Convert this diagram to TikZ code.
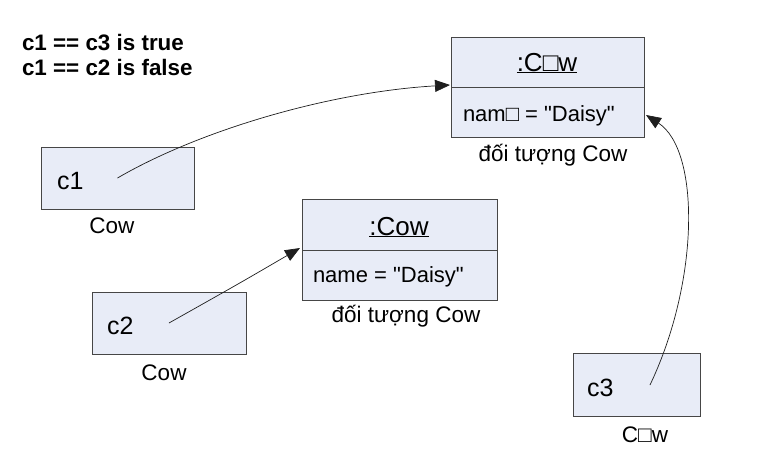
\documentclass[tikz,border=0pt]{standalone}
\usepackage{fontspec}
\setmainfont{Liberation Sans}[Ligatures=TeXOff]
\usetikzlibrary{arrows.meta}
\definecolor{boxfill}{RGB}{232,236,247}
\definecolor{boxline}{RGB}{70,70,70}
\definecolor{lnk}{RGB}{30,30,30}
\tikzset{
  box/.style={draw=boxline, fill=boxfill, line width=0.8pt, inner sep=0pt, outer sep=0pt, rectangle},
  txt/.style={inner sep=0pt, outer sep=0pt, anchor=base west},
  lbl/.style={inner sep=0pt, outer sep=0pt, anchor=base},
  bigtxt/.style={font=\fontsize{25}{30}\selectfont},
  midtxt/.style={font=\fontsize{22}{26}\selectfont},
  captxt/.style={font=\fontsize{22.5}{27}\selectfont},
  headtxt/.style={font=\fontsize{26}{31}\selectfont},
  boldtxt/.style={font=\fontsize{22.4}{26}\selectfont\bfseries},
  conn/.style={draw=lnk, line width=0.7pt, -{Triangle[length=15pt,width=12pt]}}
}
\begin{document}
\begin{tikzpicture}[x=1pt,y=-1pt]
\useasboundingbox (0,0) rectangle (764,458);
% top-left statements
\node[txt,boldtxt] (s1) at (22,50) {c1 == c3 is true};
\node[txt,boldtxt] (s2) at (22,75) {c1 == c2 is false};
% reference boxes
\node[box, minimum width=153pt, minimum height=62pt] (c1box) at (117.5,178) {};
\node[box, minimum width=154pt, minimum height=62pt] (c2box) at (169,323) {};
\node[box, minimum width=127pt, minimum height=63pt] (c3box) at (636.5,384.5) {};
\node[txt,bigtxt] (c1t) at (57,189) {c1};
\node[txt,bigtxt] (c2t) at (107,334) {c2};
\node[txt,bigtxt] (c3t) at (587,396) {c3};
\node[lbl,captxt] (c1l) at (112,233) {Cow};
\node[lbl,captxt] (c2l) at (164,380) {Cow};
\node[lbl,captxt] (c3l) at (645,442) {C□w};
% object boxes
\node[box, minimum width=193pt, minimum height=50pt] (obj1head) at (547.5,62) {};
\node[box, minimum width=193pt, minimum height=50pt] (obj1attr) at (547.5,112) {};
\node[box, minimum width=195pt, minimum height=51pt] (obj2head) at (399.5,224.5) {};
\node[box, minimum width=195pt, minimum height=50pt] (obj2attr) at (399.5,275) {};
\node[lbl,headtxt] (o1n) at (547,71) {\underline{:C□w}};
\node[txt,midtxt] (o1a) at (463,121) {nam□ = "Daisy"};
\node[lbl,captxt] (o1l) at (553,161) {đối tượng Cow};
\node[lbl,headtxt] (o2n) at (399,235) {\underline{:Cow}};
\node[txt,midtxt] (o2a) at (313,282) {name = "Daisy"};
\node[lbl,captxt] (o2l) at (406,322) {đối tượng Cow};
% connectors
\coordinate (c3start) at (650,385);
\draw[conn] (c1box.center) .. controls (200,130) and (330,92) .. ([xshift=-1pt,yshift=2pt]obj1head.south west);
\draw[conn] (c2box.center) .. controls (240,283) .. ([xshift=-2pt,yshift=2pt]obj2head.south west);
\draw[conn] (c3start) .. controls (700,280) and (700,150) .. ([xshift=2pt,yshift=-3pt]obj1attr.east);
\end{tikzpicture}
\end{document}
